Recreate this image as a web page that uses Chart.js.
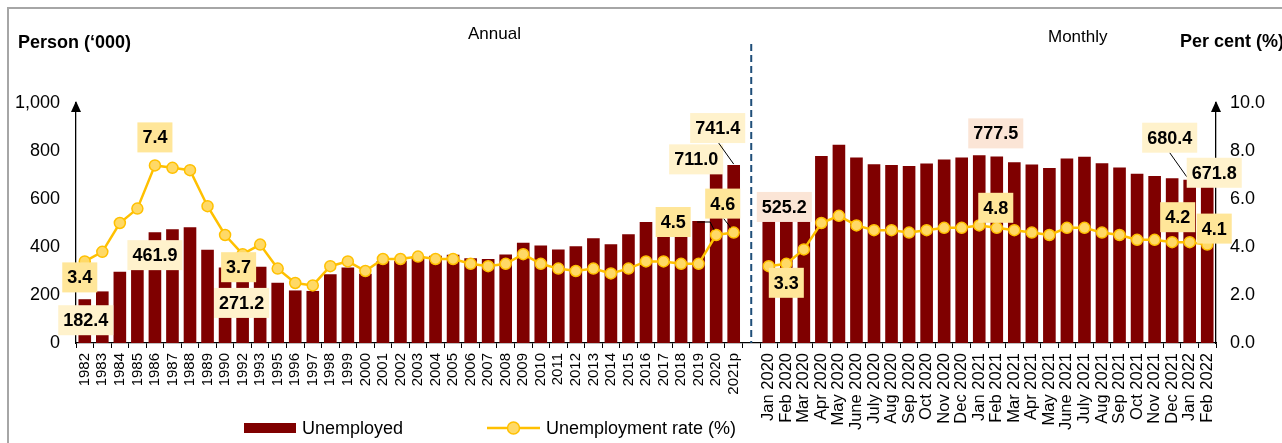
<!DOCTYPE html>
<html>
<head>
<meta charset="utf-8">
<script src="https://cdn.jsdelivr.net/npm/chart.js@4"></script>
<style>
  body { margin: 0; background: #fff; }
  canvas { display: block; }
</style>
</head>
<body>
<canvas id="unemployment-chart" width="1282" height="443"></canvas>
<script>
const annualLabels = [
  "1982", "1983", "1984", "1985", "1986", "1987", "1988", "1989", "1990", "1992",
  "1993", "1995", "1996", "1997", "1998", "1999", "2000", "2001", "2002", "2003",
  "2004", "2005", "2006", "2007", "2008", "2009", "2010", "2011", "2012", "2013",
  "2014", "2015", "2016", "2017", "2018", "2019", "2020", "2021p",
];
const annualUnemployed = [
  182.4, 215, 297, 306, 461.9, 474, 482, 389, 315, 271.2,
  318, 251, 219, 217, 286, 315, 289, 342, 343, 360,
  364, 368, 353, 350, 369, 418, 406, 390, 403, 436,
  411, 453, 504, 506, 505, 508, 711.0, 741.4,
];
const annualRate = [
  3.4, 3.8, 5.0, 5.6, 7.4, 7.3, 7.2, 5.7, 4.5, 3.7,
  4.1, 3.1, 2.5, 2.4, 3.2, 3.4, 3.0, 3.5, 3.5, 3.6,
  3.5, 3.5, 3.3, 3.2, 3.3, 3.7, 3.3, 3.1, 3.0, 3.1,
  2.9, 3.1, 3.4, 3.4, 3.3, 3.3, 4.5, 4.6,
];

const monthlyLabels = [
  "Jan 2020", "Feb 2020", "Mar 2020", "Apr 2020", "May 2020", "June 2020",
  "July 2020", "Aug 2020", "Sep 2020", "Oct 2020", "Nov 2020", "Dec 2020",
  "Jan 2021", "Feb 2021", "Mar 2021", "Apr 2021", "May 2021", "June 2021",
  "July 2021", "Aug 2021", "Sep 2021", "Oct 2021", "Nov 2021", "Dec 2021",
  "Jan 2022", "Feb 2022",
];
const monthlyUnemployed = [
  522.6, 525.2, 610.5, 778.8, 826.1, 773.2,
  745.1, 741.6, 737.8, 748.2, 764.4, 772.9,
  782.5, 777.5, 753.6, 744.0, 729.4, 768.7,
  776.4, 748.6, 731.2, 705.0, 695.4, 686.4,
  680.4, 671.8,
];
const monthlyRate = [
  3.2, 3.3, 3.9, 5.0, 5.3, 4.9,
  4.7, 4.7, 4.6, 4.7, 4.8, 4.8,
  4.9, 4.8, 4.7, 4.6, 4.5, 4.8,
  4.8, 4.6, 4.5, 4.3, 4.3, 4.2,
  4.2, 4.1,
];

// one empty slot between the annual and monthly parts
const labels = [...annualLabels, "", ...monthlyLabels];
const unemployed = [...annualUnemployed, null, ...monthlyUnemployed];
const rate = [...annualRate, null, ...monthlyRate];
const gapIndex = annualLabels.length;

const CREAM = "#fff2cc";
const YELLOW = "#ffe699";
const PINK = "#fbe5d6";

// value boxes: offset of the box centre from the bar top / point
const callouts = [
  { ds: 1, i: 0, dx: 1, dy: 21, bg: CREAM },
  { ds: 1, i: 4, dx: 0, dy: 23, bg: CREAM },
  { ds: 1, i: 9, dx: -1, dy: 25, bg: CREAM },
  { ds: 1, i: 36, dx: -20, dy: -13, bg: CREAM },
  { ds: 1, i: 37, dx: -16, dy: -37, bg: CREAM, lead: [[-15, -22], [0, -1]] },
  { ds: 0, i: 0, dx: -5, dy: 16, bg: YELLOW },
  { ds: 0, i: 4, dx: 0, dy: -28, bg: YELLOW },
  { ds: 0, i: 9, dx: -4, dy: 13, bg: YELLOW },
  { ds: 0, i: 36, dx: -43, dy: -13, bg: YELLOW, lead: [[-19, -13], [-6, -13], [-2, -5]] },
  { ds: 0, i: 37, dx: -11, dy: -29, bg: YELLOW, lead: [[-10, -14], [-3, -5]] },
  { ds: 1, i: 40, dx: -2, dy: -10, bg: PINK },
  { ds: 0, i: 40, dx: 0, dy: 19, bg: YELLOW },
  { ds: 1, i: 52, dx: -1, dy: -23, bg: PINK },
  { ds: 0, i: 52, dx: -1, dy: -20, bg: YELLOW },
  { ds: 1, i: 63, dx: -20, dy: -42, bg: CREAM, lead: [[-20, -27], [-3, -3]] },
  { ds: 1, i: 64, dx: 7, dy: -9, bg: CREAM },
  { ds: 0, i: 63, dx: -12, dy: -25, bg: YELLOW },
  { ds: 0, i: 64, dx: 7, dy: -16, bg: YELLOW },
];

const FONT = "'Liberation Sans', Arial, sans-serif";
Chart.defaults.font.family = FONT;
Chart.defaults.color = "#000";

const decorations = {
  id: "decorations",
  beforeDraw(chart) {
    const ctx = chart.ctx;
    ctx.save();
    ctx.fillStyle = "#fff";
    ctx.fillRect(0, 0, chart.width, chart.height);
    ctx.restore();
  },
  afterDraw(chart) {
    const ctx = chart.ctx;
    const area = chart.chartArea;
    const xs = chart.scales.x;
    ctx.save();

    // frame
    ctx.strokeStyle = "#a6a6a6";
    ctx.lineWidth = 2;
    ctx.strokeRect(8, 8, 2000, 2000);

    // divider between annual and monthly
    const gx = xs.getPixelForValue(gapIndex);
    ctx.strokeStyle = "#1f4e79";
    ctx.lineWidth = 2;
    ctx.setLineDash([7, 4]);
    ctx.beginPath();
    ctx.moveTo(gx, 44);
    ctx.lineTo(gx, area.bottom);
    ctx.stroke();
    ctx.setLineDash([]);

    // arrow heads on both value axes
    ctx.fillStyle = "#000";
    [area.left, area.right].forEach((ax) => {
      ctx.beginPath();
      ctx.moveTo(ax, area.top - 2);
      ctx.lineTo(ax - 5, area.top + 9);
      ctx.lineTo(ax + 5, area.top + 9);
      ctx.closePath();
      ctx.fill();
    });

    // titles
    ctx.textBaseline = "alphabetic";
    ctx.textAlign = "left";
    ctx.font = "bold 18px " + FONT;
    ctx.fillText("Person (\u2018000)", 18, 48);
    ctx.fillText("Per cent (%)", 1180, 47);
    ctx.font = "17px " + FONT;
    ctx.fillText("Annual", 468, 39);
    ctx.fillText("Monthly", 1048, 42);

    // legend
    ctx.font = "18px " + FONT;
    ctx.textBaseline = "middle";
    ctx.fillStyle = "#7f0000";
    ctx.fillRect(244, 423, 52, 10);
    ctx.fillStyle = "#000";
    ctx.fillText("Unemployed", 302, 429);
    ctx.strokeStyle = "#ffc000";
    ctx.lineWidth = 2.5;
    ctx.beginPath();
    ctx.moveTo(487, 428);
    ctx.lineTo(540, 428);
    ctx.stroke();
    ctx.beginPath();
    ctx.arc(513.5, 428, 6, 0, Math.PI * 2);
    ctx.fillStyle = "#ffd966";
    ctx.fill();
    ctx.lineWidth = 1.5;
    ctx.stroke();
    ctx.fillStyle = "#000";
    ctx.fillText("Unemployment rate (%)", 546, 429);

    // value boxes
    ctx.font = "bold 18px " + FONT;
    ctx.textAlign = "center";
    callouts.forEach((c) => {
      const el = chart.getDatasetMeta(c.ds).data[c.i];
      const value = chart.data.datasets[c.ds].data[c.i];
      const text = value.toFixed(1);
      if (c.lead) {
        ctx.strokeStyle = "#000";
        ctx.lineWidth = 1;
        ctx.beginPath();
        c.lead.forEach(([lx, ly], k) => {
          if (k === 0) ctx.moveTo(el.x + lx, el.y + ly);
          else ctx.lineTo(el.x + lx, el.y + ly);
        });
        ctx.stroke();
      }
      const w = ctx.measureText(text).width + 10;
      const h = 30;
      const cx = el.x + c.dx;
      const cy = el.y + c.dy;
      ctx.fillStyle = c.bg;
      ctx.fillRect(cx - w / 2, cy - h / 2, w, h);
      ctx.fillStyle = "#000";
      ctx.fillText(text, cx, cy + 1);
    });

    ctx.restore();
  },
};

new Chart(document.getElementById("unemployment-chart"), {
  type: "bar",
  data: {
    labels: labels,
    datasets: [
      {
        type: "line",
        label: "Unemployment rate (%)",
        data: rate,
        yAxisID: "y1",
        borderColor: "#ffc000",
        borderWidth: 2.5,
        pointRadius: 5.5,
        pointBackgroundColor: "#ffd966",
        pointBorderColor: "#ffc000",
        pointBorderWidth: 1.5,
        spanGaps: false,
        order: 0,
      },
      {
        label: "Unemployed",
        data: unemployed,
        yAxisID: "y",
        backgroundColor: "#7f0000",
        categoryPercentage: 1,
        barPercentage: 0.72,
        order: 1,
      },
    ],
  },
  options: {
    responsive: false,
    animation: false,
    layout: { padding: { top: 103, left: 0, right: 0, bottom: 0 } },
    scales: {
      x: {
        grid: {
          display: true,
          drawOnChartArea: false,
          tickLength: 5,
          color: "#000",
          offset: true,
        },
        border: { display: true, color: "#000", width: 1.3 },
        ticks: {
          autoSkip: false,
          maxRotation: 90,
          minRotation: 90,
          padding: 5,
          font: (c) => ({ size: c.index > gapIndex ? 16.5 : 15 }),
        },
        afterFit: (s) => { s.height = 100; },
      },
      y: {
        position: "left",
        min: 0,
        max: 1000,
        grid: { display: false, drawTicks: false },
        border: { display: true, color: "#000", width: 1.3 },
        ticks: {
          stepSize: 200,
          padding: 16,
          font: { size: 18 },
          callback: (v) => v.toLocaleString("en-US"),
        },
        afterFit: (s) => { s.width = 76; },
      },
      y1: {
        position: "right",
        min: 0,
        max: 10,
        grid: { display: false, drawTicks: false },
        border: { display: true, color: "#000", width: 1.3 },
        ticks: {
          stepSize: 2,
          padding: 14,
          font: { size: 18 },
          callback: (v) => v.toFixed(1),
        },
        afterFit: (s) => { s.width = 66; },
      },
    },
    plugins: {
      legend: { display: false },
      tooltip: { enabled: false },
    },
  },
  plugins: [decorations],
});
</script>
</body>
</html>
